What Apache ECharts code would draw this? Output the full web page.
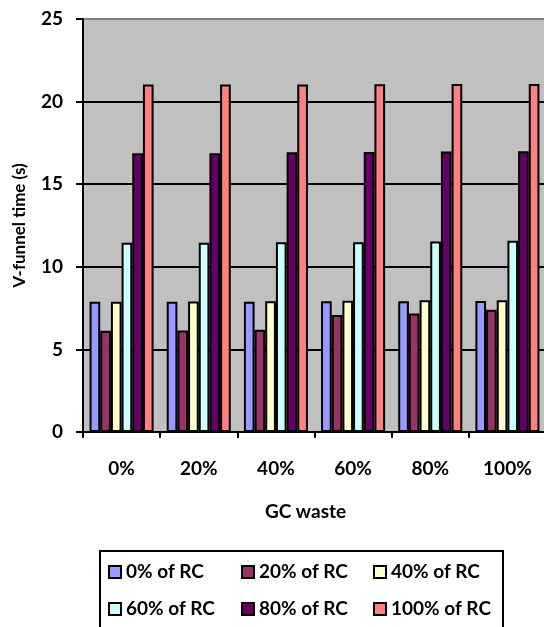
<!DOCTYPE html>
<html>
<head>
<meta charset="utf-8">
<script src="https://cdn.jsdelivr.net/npm/echarts@6/dist/echarts.min.js"></script>
<style>
  html, body { margin: 0; padding: 0; background: #fff; }
  #chart { width: 544px; height: 627px; }
</style>
</head>
<body>
<div id="chart"></div>
<script>
// GC waste replacement levels (x categories)
const categories = ['0%', '20%', '40%', '60%', '80%', '100%'];
// RC replacement levels (series)
const seriesNames = ['0% of RC', '20% of RC', '40% of RC', '60% of RC', '80% of RC', '100% of RC'];
// V-funnel time (s) for each RC level across GC waste levels
const rc0   = [7.88, 7.88, 7.88, 7.92, 7.92, 7.93];
const rc20  = [6.13, 6.15, 6.19, 7.08, 7.18, 7.40];
const rc40  = [7.88, 7.90, 7.92, 7.95, 7.97, 7.98];
const rc60  = [11.46, 11.46, 11.48, 11.49, 11.53, 11.57];
const rc80  = [16.88, 16.88, 16.93, 16.95, 16.98, 16.99];
const rc100 = [21.03, 21.03, 21.04, 21.05, 21.06, 21.06];
const yTicks = [0, 5, 10, 15, 20, 25];

const seriesData = [rc0, rc20, rc40, rc60, rc80, rc100];
const colors = ['#9999FF', '#993366', '#FFFFCC', '#CCFFFF', '#660066', '#FF8080'];
const FONT = 'Lato';
const FS = 19;

const chart = echarts.init(document.getElementById('chart'), null, { renderer: 'canvas' });

function legendColumn(names, left) {
  return {
    orient: 'vertical',
    left: left,
    top: 561,
    padding: 0,
    itemWidth: 12,
    itemHeight: 12,
    itemGap: 15,
    icon: 'rect',
    data: names,
    textStyle: { fontFamily: FONT, fontWeight: 'bold', fontSize: FS, color: '#000', lineHeight: 22 }
  };
}

chart.setOption({
  animation: false,
  color: colors,
  textStyle: { fontFamily: FONT },
  grid: {
    left: 83, top: 19, right: -2, bottom: 195,
    outerBoundsMode: 'none',
    containLabel: false,
    show: true,
    backgroundColor: '#C0C0C0',
    borderColor: '#808080',
    borderWidth: 2
  },
  legend: [
    legendColumn([seriesNames[0], seriesNames[3]], 108),
    legendColumn([seriesNames[1], seriesNames[4]], 241),
    legendColumn([seriesNames[2], seriesNames[5]], 373)
  ],
  graphic: [{
    type: 'rect',
    shape: { x: 100, y: 551, width: 403, height: 100 },
    style: { fill: 'none', stroke: '#000', lineWidth: 2 },
    silent: true
  }],
  xAxis: {
    type: 'category',
    data: categories,
    name: 'GC waste',
    nameLocation: 'middle',
    nameGap: 70,
    nameTextStyle: { fontFamily: FONT, fontWeight: 'bold', fontSize: FS, color: '#000', padding: [0, 18, 0, 0] },
    axisLine: { lineStyle: { color: '#000', width: 2 } },
    axisTick: { show: true, length: 6, lineStyle: { color: '#000', width: 2 } },
    axisLabel: { margin: 27, fontFamily: FONT, fontWeight: 'bold', fontSize: FS, color: '#000' },
    splitLine: { show: false }
  },
  yAxis: {
    type: 'value',
    min: yTicks[0],
    max: yTicks[yTicks.length - 1],
    interval: yTicks[1] - yTicks[0],
    name: 'V-funnel time (s)',
    nameLocation: 'middle',
    nameGap: 55,
    nameTextStyle: { fontFamily: FONT, fontWeight: 'bold', fontSize: 17, color: '#000' },
    axisLine: { show: true, lineStyle: { color: '#000', width: 2 } },
    axisTick: { show: true, length: 7, lineStyle: { color: '#000', width: 2 } },
    axisLabel: { margin: 20, fontFamily: FONT, fontWeight: 'bold', fontSize: FS, color: '#000' },
    splitLine: { show: true, showMinLine: false, showMaxLine: false, lineStyle: { color: '#000', width: 2 } }
  },
  series: seriesData.map((d, i) => ({
    name: seriesNames[i],
    type: 'bar',
    data: d,
    barGap: '0%',
    barCategoryGap: '17%',
    itemStyle: { color: colors[i], borderColor: '#000', borderWidth: 2 }
  }))
});
</script>
</body>
</html>
